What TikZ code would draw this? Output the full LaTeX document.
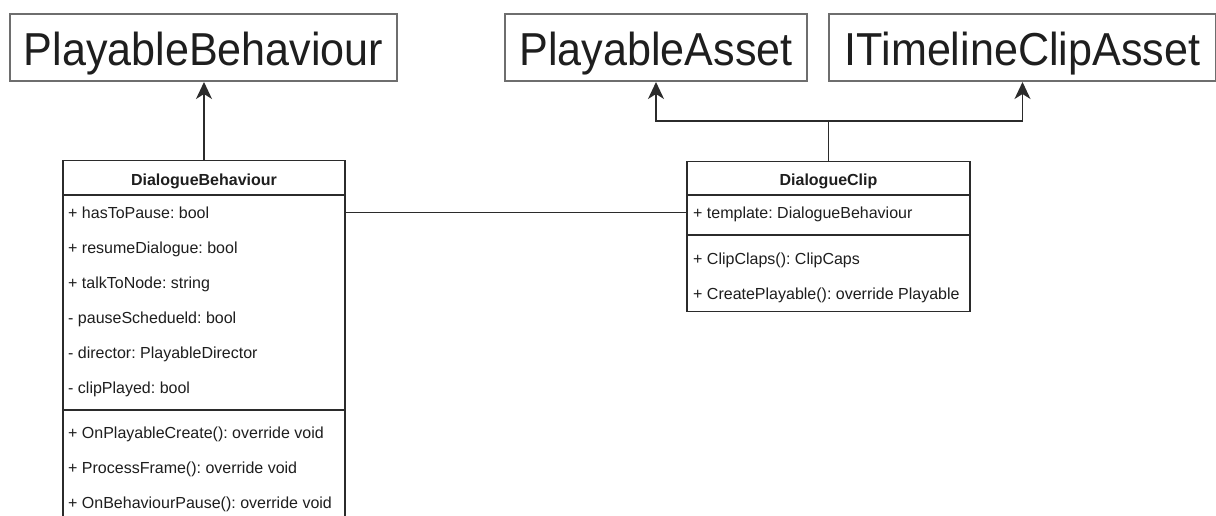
\documentclass[tikz,border=0pt]{standalone}
\usepackage{fontspec}
\setmainfont{Liberation Sans}
\usetikzlibrary{arrows.meta}
\definecolor{boxgray}{HTML}{6E6E6E}
\definecolor{lineDark}{HTML}{2B2B2B}
\definecolor{textDark}{HTML}{1E1E1E}
\newcommand{\tallword}[1]{\scalebox{0.98}[1.05]{#1}}
\frenchspacing

\begin{document}
\begin{tikzpicture}[x=1pt,y=-1pt,
  interface/.style={draw=boxgray, line width=2pt, fill=white, inner sep=0pt,
    text height=35pt, text depth=0pt, minimum height=67pt,
    font=\fontsize{44}{48}\selectfont, text=textDark},
  classbox/.style={draw=lineDark, line width=1.3pt, inner sep=0pt, anchor=north},
  member/.style={anchor=base west, inner sep=0pt, font=\fontsize{16}{19}\selectfont, text=textDark},
  classname/.style={anchor=base, inner sep=0pt, font=\bfseries\fontsize{16}{19}\selectfont, text=textDark},
  divider/.style={draw=lineDark, line width=1.3pt},
  link/.style={draw=lineDark, line width=1.3pt},
  inherit/.style={link, -{Stealth[length=17pt,width=16pt,inset=5pt]}}
]
\useasboundingbox (0,0) rectangle (1216,515);
\fill[white] (0,0) rectangle (1216,515);
\clip (0,0) rectangle (1216,515);

% base types
\node[interface, minimum width=387pt] (pb) at (203.5,47.5) {\tallword{PlayableBehaviour}};
\node[interface, minimum width=302pt] (pa) at (656,47.5) {\tallword{PlayableAsset}};
\node[interface, minimum width=387pt] (it) at (1022.5,47.5) {\tallword{ITimelineClipAsset}};

% DialogueBehaviour class
\node[classbox, minimum width=282pt, minimum height=370pt] (db) at (204,160) {};
\node[classname] (dbname) at (204,185) {DialogueBehaviour};
\coordinate (dbsepA) at (0,195);
\coordinate (dbsepB) at (0,410);
\draw[divider] (db.west |- dbsepA) -- (db.east |- dbsepA);
\draw[divider] (db.west |- dbsepB) -- (db.east |- dbsepB);
\node[member] (db1) at (68,218.5) {+ hasToPause: bool};
\node[member] (db2) at (68,253.5) {+ resumeDialogue: bool};
\node[member] (db3) at (68,288.5) {+ talkToNode: string};
\node[member] (db4) at (68,323.5) {- pauseSchedueld: bool};
\node[member] (db5) at (68,358.5) {- director: PlayableDirector};
\node[member] (db6) at (68,393.5) {- clipPlayed: bool};
\node[member] (db7) at (68,438.5) {+ OnPlayableCreate(): override void};
\node[member] (db8) at (68,473.5) {+ ProcessFrame(): override void};
\node[member] (db9) at (68,508.5) {+ OnBehaviourPause(): override void};

% DialogueClip class
\node[classbox, minimum width=283pt, minimum height=150pt] (dc) at (828.5,161) {};
\node[classname] (dcname) at (828.5,185) {DialogueClip};
\coordinate (dcsepA) at (0,195);
\coordinate (dcsepB) at (0,235);
\draw[divider] (dc.west |- dcsepA) -- (dc.east |- dcsepA);
\draw[divider] (dc.west |- dcsepB) -- (dc.east |- dcsepB);
\node[member] (dc1) at (693,218.5) {+ template: DialogueBehaviour};
\node[member] (dc2) at (693,264) {+ ClipClaps(): ClipCaps};
\node[member] (dc3) at (693,299.5) {+ CreatePlayable(): override Playable};

% connectors
\draw[inherit] (db.north) -- (db.north |- pb.south);
\coordinate (fork) at (828.5,121);
\draw[link] (dc.north) -- (fork);
\draw[inherit] (fork) -| (pa.south);
\draw[inherit] (fork) -| (it.south);
\coordinate (assoc) at (0,212.5);
\draw[link] (db.east |- assoc) -- (dc.west |- assoc);
\end{tikzpicture}
\end{document}
